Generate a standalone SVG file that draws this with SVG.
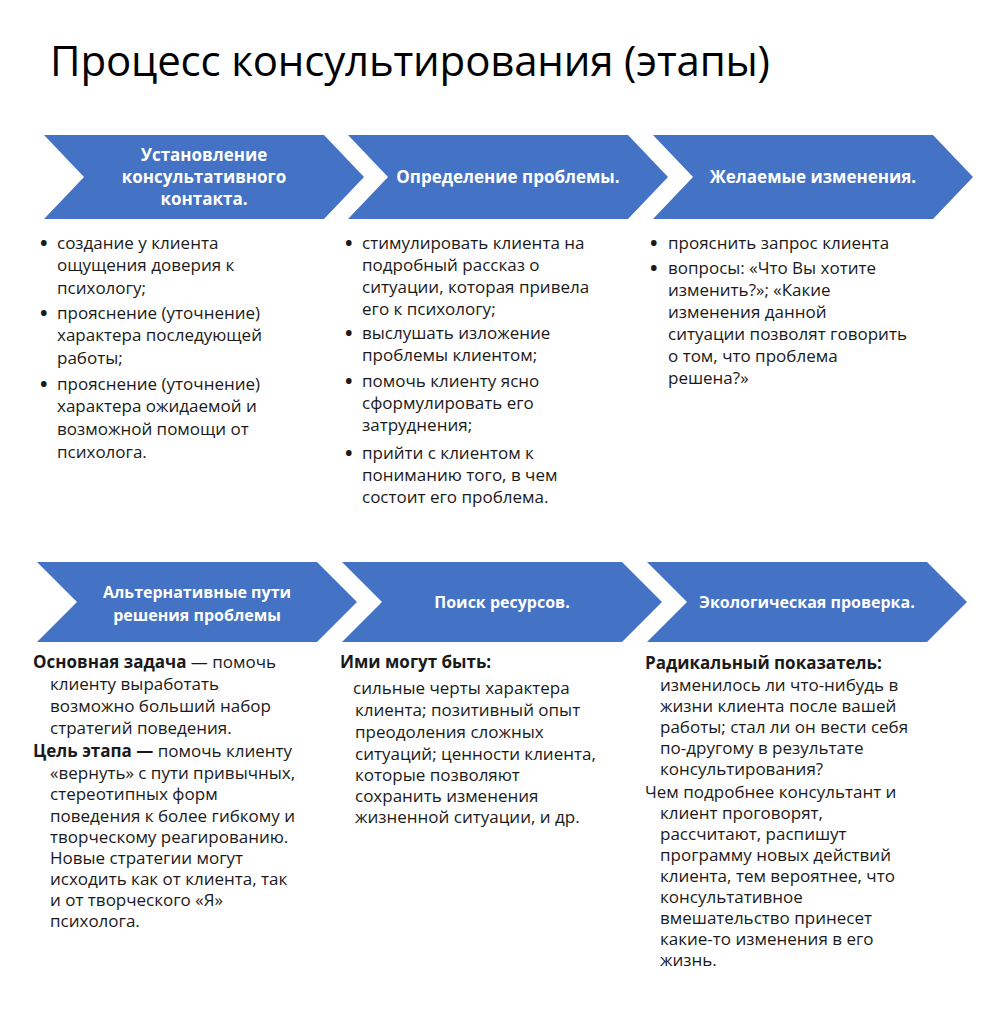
<svg xmlns="http://www.w3.org/2000/svg" width="994" height="1023" viewBox="0 0 994 1023">
<style>
.chev{fill:#4472C4}
.h{font-family:"Open Sans","Noto Sans",sans-serif;font-weight:bold;fill:#fff;text-anchor:middle}
.ht{font-size:17px}
.hb{font-size:16px}
.t{font-family:"Open Sans","Noto Sans",sans-serif;font-size:17px;fill:#1a1a1a}
.bl{font-family:"Open Sans","Noto Sans",sans-serif;font-size:20px;font-weight:bold;fill:#1a1a1a}
.b{font-weight:bold}
.title{font-family:"Open Sans","Noto Sans",sans-serif;font-size:42px;fill:#000}
</style>
<rect width="994" height="1023" fill="#fff"/>
<text class="title" x="50" y="76" textLength="720">Процесс консультирования (этапы)</text>

<g id="stage1">
<path class="chev" d="M44,135 L324,135 L364,177 L324,219 L44,219 L84,177 Z"/>
<text class="h ht"><tspan x="204" y="161">Установление</tspan><tspan x="204" y="183">консультативного</tspan><tspan x="204" y="205">контакта.</tspan></text>
<g class="bl">
<text x="40" y="250">•</text><text x="40" y="320">•</text><text x="40" y="391">•</text>
</g>
<g class="t">
<text x="57" y="249">создание у клиента</text>
<text x="57" y="271">ощущения доверия к</text>
<text x="57" y="294">психологу;</text>
<text x="57" y="319">прояснение (уточнение)</text>
<text x="57" y="341">характера последующей</text>
<text x="57" y="364">работы;</text>
<text x="57" y="390">прояснение (уточнение)</text>
<text x="57" y="412">характера ожидаемой и</text>
<text x="57" y="435">возможной помощи от</text>
<text x="57" y="458">психолога.</text>
</g>
</g>

<g id="stage2">
<path class="chev" d="M348,135 L628,135 L668,177 L628,219 L348,219 L388,177 Z"/>
<text class="h ht" x="508" y="183">Определение проблемы.</text>
<g class="bl">
<text x="345" y="250">•</text><text x="345" y="340">•</text><text x="345" y="388">•</text><text x="345" y="460">•</text>
</g>
<g class="t">
<text x="362" y="249">стимулировать клиента на</text>
<text x="362" y="271">подробный рассказ о</text>
<text x="362" y="293">ситуации, которая привела</text>
<text x="362" y="315">его к психологу;</text>
<text x="362" y="339">выслушать изложение</text>
<text x="362" y="361">проблемы клиентом;</text>
<text x="362" y="387">помочь клиенту ясно</text>
<text x="362" y="409">сформулировать его</text>
<text x="362" y="431">затруднения;</text>
<text x="362" y="459">прийти с клиентом к</text>
<text x="362" y="481">пониманию того, в чем</text>
<text x="362" y="503">состоит его проблема.</text>
</g>
</g>

<g id="stage3">
<path class="chev" d="M653,135 L933,135 L973,177 L933,219 L653,219 L693,177 Z"/>
<text class="h ht" x="813" y="183">Желаемые изменения.</text>
<g class="bl">
<text x="650" y="250">•</text><text x="650" y="275">•</text>
</g>
<g class="t">
<text x="668" y="249">прояснить запрос клиента</text>
<text x="668" y="274">вопросы: «Что Вы хотите</text>
<text x="668" y="296">изменить?»; «Какие</text>
<text x="668" y="318">изменения данной</text>
<text x="668" y="340">ситуации позволят говорить</text>
<text x="668" y="362">о том, что проблема</text>
<text x="668" y="384">решена?»</text>
</g>
</g>

<g id="stage4">
<path class="chev" d="M37,562 L317,562 L357,602 L317,642 L37,642 L77,602 Z"/>
<text class="h hb"><tspan x="197" y="598">Альтернативные пути</tspan><tspan x="197" y="621">решения проблемы</tspan></text>
<g class="t">
<text x="33" y="668"><tspan class="b">Основная задача</tspan> — помочь</text>
<text x="50" y="690">клиенту выработать</text>
<text x="50" y="712">возможно больший набор</text>
<text x="50" y="734">стратегий поведения.</text>
<text x="33" y="757"><tspan class="b">Цель этапа —</tspan> помочь клиенту</text>
<text x="50" y="779">«вернуть» с пути привычных,</text>
<text x="50" y="800">стереотипных форм</text>
<text x="50" y="822">поведения к более гибкому и</text>
<text x="50" y="843">творческому реагированию.</text>
<text x="50" y="864">Новые стратегии могут</text>
<text x="50" y="885">исходить как от клиента, так</text>
<text x="50" y="906">и от творческого «Я»</text>
<text x="50" y="927">психолога.</text>
</g>
</g>

<g id="stage5">
<path class="chev" d="M342,562 L622,562 L662,602 L622,642 L342,642 L382,602 Z"/>
<text class="h hb" x="502" y="608">Поиск ресурсов.</text>
<g class="t">
<text x="340" y="668" class="b">Ими могут быть:</text>
<text x="353" y="694">сильные черты характера</text>
<text x="355" y="716">клиента; позитивный опыт</text>
<text x="355" y="738">преодоления сложных</text>
<text x="355" y="760">ситуаций; ценности клиента,</text>
<text x="355" y="781">которые позволяют</text>
<text x="355" y="802">сохранить изменения</text>
<text x="355" y="823">жизненной ситуации, и др.</text>
</g>
</g>

<g id="stage6">
<path class="chev" d="M647,562 L927,562 L967,602 L927,642 L647,642 L687,602 Z"/>
<text class="h hb" x="807" y="608">Экологическая проверка.</text>
<g class="t">
<text x="645" y="669" class="b">Радикальный показатель:</text>
<text x="660" y="691">изменилось ли что-нибудь в</text>
<text x="660" y="712">жизни клиента после вашей</text>
<text x="660" y="733">работы; стал ли он вести себя</text>
<text x="660" y="754">по-другому в результате</text>
<text x="660" y="775">консультирования?</text>
<text x="645" y="798">Чем подробнее консультант и</text>
<text x="660" y="819">клиент проговорят,</text>
<text x="660" y="840">рассчитают, распишут</text>
<text x="660" y="861">программу новых действий</text>
<text x="660" y="882">клиента, тем вероятнее, что</text>
<text x="660" y="903">консультативное</text>
<text x="660" y="924">вмешательство принесет</text>
<text x="660" y="945">какие-то изменения в его</text>
<text x="660" y="966">жизнь.</text>
</g>
</g>
</svg>
